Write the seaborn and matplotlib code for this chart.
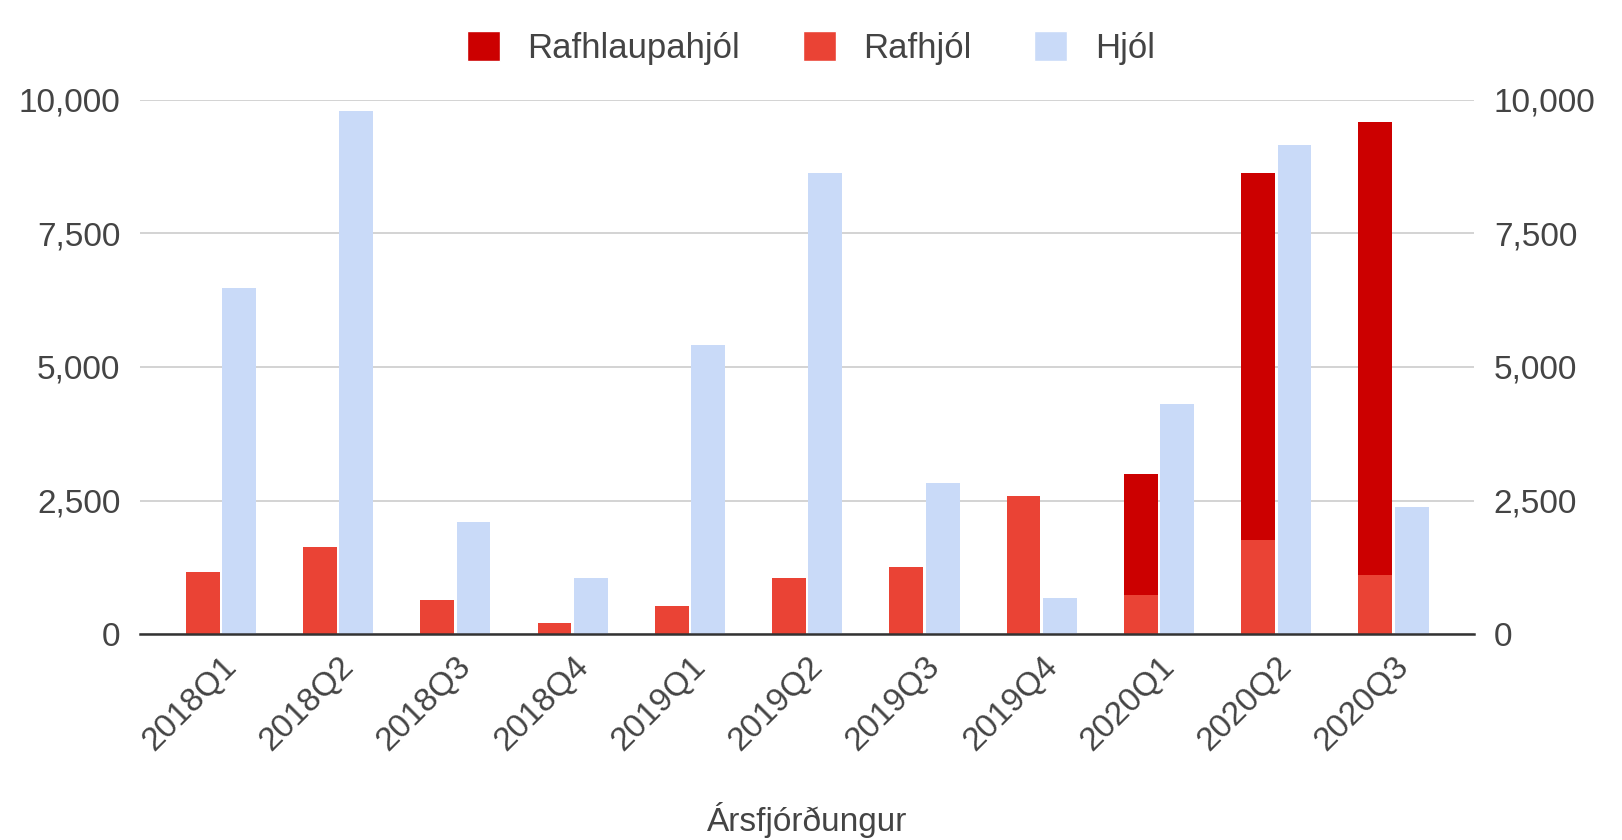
import matplotlib
matplotlib.use("Agg")
import matplotlib.pyplot as plt
from matplotlib.patches import Patch
from matplotlib.ticker import FuncFormatter
import seaborn as sns
import pandas as pd

# Gögn lesin af myndinni
quarters = ['2018Q1', '2018Q2', '2018Q3', '2018Q4', '2019Q1', '2019Q2',
            '2019Q3', '2019Q4', '2020Q1', '2020Q2', '2020Q3']
rafhlaupahjol = [0, 0, 0, 0, 0, 0, 0, 0, 2260, 6880, 8470]
rafhjol = [1160, 1630, 630, 215, 530, 1050, 1260, 2580, 740, 1760, 1110]
hjol = [6470, 9800, 2090, 1040, 5410, 8630, 2830, 680, 4310, 9160, 2380]
y_ticks = [0, 2500, 5000, 7500, 10000]

c_scooter = '#cc0000'
c_ebike = '#ea4335'
c_bike = '#c9daf8'
text_c = '#444444'
fs = 24

sns.set_theme(style="white")
plt.rcParams['font.family'] = ['Liberation Sans', 'DejaVu Sans']

# stacked column = rafhjól + rafhlaupahjól, drawn as a total then the lower part on top
df_top = pd.DataFrame({
    'quarter': quarters * 2,
    'flokkur': ['Raf'] * len(quarters) + ['Hjól'] * len(quarters),
    'value': [a + b for a, b in zip(rafhjol, rafhlaupahjol)] + hjol,
})
df_bot = pd.DataFrame({
    'quarter': quarters * 2,
    'flokkur': ['Raf'] * len(quarters) + ['Hjól'] * len(quarters),
    'value': rafhjol + [0] * len(quarters),
})

fig = plt.figure(figsize=(16.22, 8.4), dpi=100)
ax = fig.add_axes([0.0863, 0.2452, 0.8227, 0.6358])

common = dict(x='quarter', y='value', hue='flokkur', hue_order=['Raf', 'Hjól'],
              order=quarters, width=0.62, gap=0.07, saturation=1,
              linewidth=0, errorbar=None, legend=False, ax=ax)
sns.barplot(data=df_top, palette={'Raf': c_scooter, 'Hjól': c_bike}, **common)
sns.barplot(data=df_bot, palette={'Raf': c_ebike, 'Hjól': c_bike}, **common)

ax.set_ylim(0, 10000)
ax.set_xlim(-0.69, len(quarters) - 0.31)
ax.set_yticks(y_ticks)
fmt = FuncFormatter(lambda v, p: f'{v:,.0f}')
ax.yaxis.set_major_formatter(fmt)
ax.grid(axis='y', color='#cccccc', linewidth=1.2)
ax.set_axisbelow(True)
for s in ['top', 'right', 'left']:
    ax.spines[s].set_visible(False)
ax.spines['bottom'].set_color('#333333')
ax.spines['bottom'].set_linewidth(1.8)
ax.spines['bottom'].set_zorder(5)
ax.tick_params(axis='both', length=0, labelsize=fs, labelcolor=text_c)
ax.tick_params(axis='y', pad=14)
plt.setp(ax.get_xticklabels(), rotation=45, ha='right', rotation_mode='anchor')
ax.tick_params(axis='x', pad=12)
ax.set_ylabel('')
ax.set_xlabel('Ársfjórðungur', fontsize=fs, color=text_c, labelpad=33)

ax2 = ax.twinx()
ax2.set_ylim(0, 10000)
ax2.set_yticks(y_ticks)
ax2.yaxis.set_major_formatter(fmt)
ax2.grid(False)
for s in ax2.spines.values():
    s.set_visible(False)
ax2.tick_params(axis='y', length=0, labelsize=fs, labelcolor=text_c, pad=14)

handles = [Patch(facecolor=c_scooter, label='Rafhlaupahjól'),
           Patch(facecolor=c_ebike, label='Rafhjól'),
           Patch(facecolor=c_bike, label='Hjól')]
leg = fig.legend(handles=handles, loc='upper center', bbox_to_anchor=(0.5, 1.0),
                 ncol=3, frameon=False, fontsize=fs + 1, handlelength=0.95,
                 handleheight=0.95, handletextpad=0.8, columnspacing=1.8)
for t in leg.get_texts():
    t.set_color(text_c)

fig.savefig('out.png', dpi=100)
